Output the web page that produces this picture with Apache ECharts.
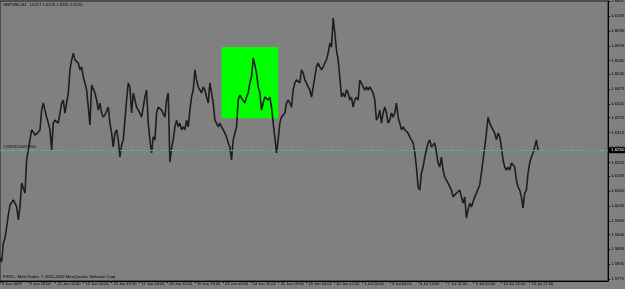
<!DOCTYPE html>
<html><head><meta charset="utf-8">
<script src="https://cdn.jsdelivr.net/npm/echarts@6/dist/echarts.min.js"></script>
<style>html,body{margin:0;padding:0;background:#808080}#c{width:625px;height:289px}</style>
</head><body><div id="c"></div>
<script>
// GBPUSD H1 closes, sampled left to right
const seg1 = [1.5853,1.5838,1.5908,1.5926,1.5967,1.6011,1.6048,1.6055,1.6067,1.6055,1.6041,1.5993,1.6041,1.6129,1.6122,1.6092,1.6214,1.6251,1.6288,1.6325,1.6317,1.6306,1.6313,1.6317,1.6325,1.6398,1.6424,1.6398,1.6372,1.6350,1.6325,1.6251,1.6350,1.6361,1.6354,1.6350,1.6387,1.6424,1.6435,1.6387,1.6424,1.6461,1.6546,1.6583,1.6608,1.6583,1.6590,1.6571,1.6546,1.6557,1.6520,1.6498,1.6472,1.6409,1.6343,1.6490,1.6490,1.6461,1.6435,1.6398];
const seg2 = [1.6424,1.6387,1.6372,1.6380,1.6387,1.6409,1.6350,1.6313,1.6262,1.6313,1.6325,1.6288,1.6225,1.6269,1.6288,1.6361,1.6435,1.6498,1.6483,1.6387,1.6461,1.6435,1.6409,1.6398,1.6387,1.6372,1.6409,1.6446,1.6472,1.6350,1.6288,1.6240,1.6299,1.6288,1.6387,1.6409,1.6409,1.6398,1.6398,1.6372,1.6435,1.6461,1.6207,1.6258,1.6288,1.6336,1.6361,1.6336,1.6350,1.6325,1.6336,1.6325,1.6361,1.6336,1.6398,1.6446,1.6472,1.6546,1.6509,1.6483];
const seg3 = [1.6472,1.6461,1.6483,1.6472,1.6446,1.6424,1.6498,1.6461,1.6424,1.6361,1.6350,1.6336,1.6350,1.6336,1.6325,1.6313,1.6299,1.6277,1.6262,1.6214,1.6288,1.6288,1.6336,1.6435,1.6454,1.6442,1.6435,1.6424,1.6446,1.6461,1.6498,1.6520,1.6590,1.6583,1.6535,1.6483,1.6461,1.6398,1.6424,1.6446,1.6446,1.6435,1.6446,1.6409,1.6350,1.6299,1.6240,1.6288,1.6350,1.6372,1.6372,1.6387,1.6424,1.6435,1.6424,1.6409,1.6472,1.6498,1.6509,1.6509];
const seg4 = [1.6498,1.6546,1.6535,1.6509,1.6498,1.6483,1.6472,1.6446,1.6483,1.6520,1.6557,1.6571,1.6557,1.6546,1.6557,1.6571,1.6583,1.6608,1.6645,1.6630,1.6737,1.6682,1.6619,1.6583,1.6520,1.6446,1.6461,1.6446,1.6472,1.6461,1.6435,1.6446,1.6409,1.6435,1.6446,1.6435,1.6509,1.6509,1.6483,1.6472,1.6483,1.6472,1.6483,1.6472,1.6461,1.6435,1.6361,1.6372,1.6398,1.6350,1.6387,1.6409,1.6387,1.6350,1.6361,1.6387,1.6372,1.6387,1.6424,1.6372];
const seg5 = [1.6350,1.6325,1.6336,1.6325,1.6325,1.6313,1.6299,1.6288,1.6277,1.6240,1.6188,1.6114,1.6103,1.6166,1.6188,1.6225,1.6251,1.6277,1.6288,1.6262,1.6262,1.6277,1.6240,1.6203,1.6188,1.6225,1.6177,1.6151,1.6140,1.6129,1.6129,1.6103,1.6078,1.6078,1.6092,1.6092,1.6103,1.6078,1.6055,1.6078,1.6000,1.6030,1.6055,1.6041,1.6041,1.6078,1.6092,1.6092,1.6122,1.6166,1.6214,1.6262,1.6313,1.6372,1.6350,1.6336,1.6336,1.6313,1.6288,1.6313];
const seg6 = [1.6299,1.6262,1.6214,1.6188,1.6177,1.6188,1.6177,1.6203,1.6203,1.6188,1.6140,1.6114,1.6103,1.6078,1.6037,1.6092,1.6103,1.6166,1.6203,1.6225,1.6240,1.6262,1.6288,1.6250];
const closes = [].concat(seg1, seg2, seg3, seg4, seg5, seg6);

const timeLabels = ['8 Jun 2009','9 Jun 18:00','11 Jun 02:00','12 Jun 10:00','15 Jun 19:00','17 Jun 03:00','18 Jun 11:00','19 Jun 19:00','23 Jun 03:00','24 Jun 11:00','25 Jun 19:00','29 Jun 04:00','30 Jun 12:00','1 Jul 20:00','3 Jul 04:00','6 Jul 13:00','7 Jul 21:00','9 Jul 05:00','10 Jul 13:00','13 Jul 21:00'];
const priceLabels = ['1.6800','1.6745','1.6690','1.6635','1.6580','1.6530','1.6475','1.6420','1.6370','1.6315','1.6260','1.6205','1.6155','1.6100','1.6045','1.5990','1.5940','1.5885','1.5830','1.5775'];
const lastPrice = 1.6250;
const boxRange = {from: 133, to: 167, high: 1.6630, low: 1.6368};
const titleText = 'GBPUSD,H1  1.6257 1.6259 1.6235 1.6250';
const footerText = 'FXDD - MetaTrader, \u00a9 2001-2009 MetaQuotes Software Corp.';
const lineTag = '#28823206093902';

const slots = 366;
const cats = Array.from({length: slots}, (_, i) => String(i));
const F = 'Liberation Sans, Arial, sans-serif';

const chart = echarts.init(document.getElementById('c'), null, {renderer: 'canvas'});
chart.setOption({
  backgroundColor: '#808080',
  animation: false,
  grid: {left: 0, right: 17, top: 1, bottom: 8, containLabel: false, outerBoundsMode: 'none',
    show: true, borderColor: '#1a1a1a', borderWidth: 1, backgroundColor: 'transparent'},
  title: [
    {text: titleText, left: 3, top: 3, padding: 0, textStyle: {fontSize: 4.1, fontWeight: 'normal', color: '#000', fontFamily: F}},
    {text: footerText, left: 3, top: 275, padding: 0, textStyle: {fontSize: 4.1, fontWeight: 'normal', color: '#000', fontFamily: F}}
  ],
  xAxis: [
    {type: 'category', data: cats, boundaryGap: false, show: false},
    {type: 'value', min: 0, max: 21.82, position: 'bottom',
      axisLine: {show: true, onZero: false, lineStyle: {color: '#000', width: 1}},
      axisTick: {show: true, length: 2, lineStyle: {color: '#000'}, customValues: timeLabels.map((_, i) => i)},
      axisLabel: {show: true, customValues: timeLabels.map((_, i) => i), formatter: v => timeLabels[Math.round(v)] || '',
        align: 'left', margin: 1, fontSize: 4, color: '#000', fontFamily: F, padding: [0, 0, 0, 2]},
      splitLine: {show: false}}
  ],
  yAxis: {type: 'value', position: 'right', min: 1.5768, max: 1.6800,
    axisLine: {show: true, onZero: false, lineStyle: {color: '#000', width: 1}},
    axisTick: {show: true, length: 2, lineStyle: {color: '#000'}, customValues: priceLabels.map(Number)},
    axisLabel: {show: true, customValues: priceLabels.map(Number), formatter: v => v.toFixed(4),
      margin: 3, fontSize: 4.4, color: '#000', fontFamily: F},
    splitLine: {show: false}},
  series: [
    {type: 'line', xAxisIndex: 0, data: [], z: 1, silent: true,
      markArea: {silent: true, itemStyle: {color: '#00ff00', opacity: 1},
        data: [[{xAxis: String(boxRange.from), yAxis: boxRange.high}, {xAxis: String(boxRange.to), yAxis: boxRange.low}]]}},
    {type: 'line', xAxisIndex: 0, data: closes, z: 3, symbol: 'none', smooth: false,
      lineStyle: {color: '#1e1e1e', width: 1.6},
      markLine: {silent: true, symbol: 'none', animation: false, precision: 4,
        data: [
          {yAxis: lastPrice, lineStyle: {color: '#3cb8b8', width: 1, type: [5, 2, 1, 2]},
            label: {show: true, position: 'insideStartTop', formatter: lineTag, fontSize: 4, color: '#111', fontFamily: F, distance: [3, 1]}},
          {yAxis: lastPrice, lineStyle: {color: 'rgba(0,0,0,0)', width: 0.1},
            label: {show: true, position: 'end', formatter: lastPrice.toFixed(4), fontSize: 4.4, color: '#fff', backgroundColor: '#000', padding: [1, 2], distance: 1, fontFamily: F}}
        ]}}
  ]
});
</script></body></html>
